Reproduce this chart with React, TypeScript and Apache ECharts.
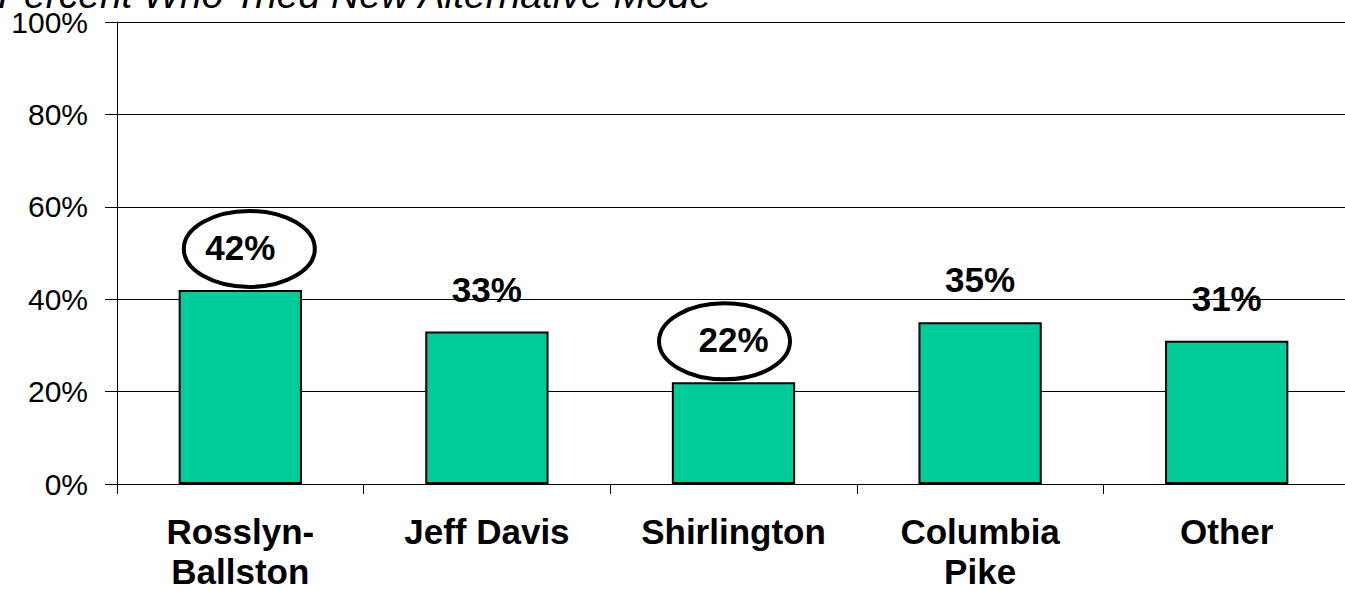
import React, { useEffect, useRef } from "react";
import * as echarts from "echarts";

const categories = ["Rosslyn-\nBallston", "Jeff Davis", "Shirlington", "Columbia\nPike", "Other"];
const values = [42, 33, 22, 35, 31];
const circled = [0, 2];
const circleOffsetX = [9, -9];
const yTicks = [0, 20, 40, 60, 80, 100];
const titleText = "Percent Who Tried New Alternative Mode";

export default function App() {
  const ref = useRef<HTMLDivElement>(null);
  useEffect(() => {
    document.body.style.margin = "0";
    const chart = echarts.init(ref.current!, null, { renderer: "svg" });
    const font = "Arial, 'Liberation Sans', sans-serif";
    chart.setOption({
      animation: false,
      backgroundColor: "#ffffff",
      grid: { left: 117, right: -5, top: 22, bottom: 106, containLabel: false, outerBoundsMode: "none" },
      xAxis: {
        type: "category",
        data: categories,
        axisLine: { lineStyle: { color: "#000", width: 1 } },
        axisTick: { show: true, length: 10, lineStyle: { color: "#000" } },
        axisLabel: {
          color: "#000",
          fontFamily: font,
          fontWeight: "bold",
          fontSize: 35,
          lineHeight: 40,
          margin: 27,
          interval: 0,
        },
      },
      yAxis: {
        type: "value",
        min: yTicks[0],
        max: yTicks[yTicks.length - 1],
        interval: 20,
        axisLine: { show: true, lineStyle: { color: "#000", width: 1 } },
        axisTick: { show: true, inside: false, length: 12, lineStyle: { color: "#000" } },
        splitLine: { show: true, lineStyle: { color: "#000", width: 1 } },
        axisLabel: {
          color: "#000",
          fontFamily: font,
          fontSize: 30,
          margin: 29,
          formatter: "{value}%",
        },
      },
      series: [
        {
          type: "bar",
          data: values,
          barWidth: "50%",
          z: 10,
          itemStyle: { color: "#00CC99", borderColor: "#000", borderWidth: 2 },
          label: {
            show: true,
            position: "top",
            distance: 25,
            color: "#000",
            fontFamily: font,
            fontWeight: "bold",
            fontSize: 35,
            formatter: "{c}%",
          },
        },
      ],
    });

    const rx = 65.5;
    const ry = 38;
    const ellipses = circled.map((i, k) => {
      const p = chart.convertToPixel({ seriesIndex: 0 }, [i, values[i]]) as number[];
      return {
        type: "ellipse",
        z: 5,
        shape: { cx: p[0] + circleOffsetX[k], cy: p[1] - ry - 3, rx, ry },
        style: { fill: "#fff", stroke: "#000", lineWidth: 4 },
      };
    });
    chart.setOption({
      graphic: [
        ...ellipses,
        {
          type: "text",
          z: 10,
          x: -2,
          y: -5.5,
          style: {
            text: titleText,
            fill: "#000",
            verticalAlign: "middle",
            font: "italic 39px Arial, 'Liberation Sans', sans-serif",
          },
        },
      ],
    });
    return () => chart.dispose();
  }, []);
  return <div ref={ref} style={{ width: 1345, height: 590 }} />;
}
